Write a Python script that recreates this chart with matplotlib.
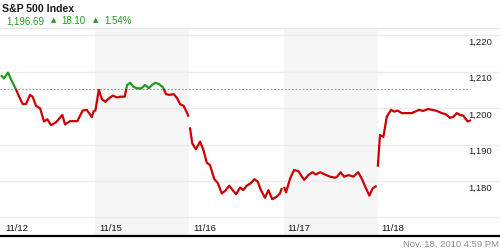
import matplotlib.pyplot as plt
from matplotlib.patches import Rectangle

plt.rcParams['font.family'] = ['Liberation Sans', 'DejaVu Sans']

# one list per trading day: minutes after the open, index level
days = ['11/12', '11/15', '11/16', '11/17', '11/18']
minutes = [
	[0, 12, 29, 44, 62, 75, 90, 104, 120, 131, 145, 162, 178, 192, 207, 228, 254, 265, 286, 316, 338, 355, 376, 385],
	[0, 15, 28, 42, 58, 73, 90, 104, 122, 132, 145, 159, 173, 191, 207, 222, 235, 249, 263, 280, 293, 307, 325, 339, 352, 366, 380, 387],
	[2, 12, 27, 44, 58, 72, 85, 103, 117, 134, 148, 165, 179, 193, 210, 223, 237, 254, 269, 283, 296, 313, 327, 343, 361, 375, 383],
	[2, 10, 27, 43, 61, 85, 102, 119, 133, 151, 171, 192, 213, 222, 236, 250, 268, 289, 309, 323, 341, 355, 369, 385],
	[0, 9, 23, 37, 55, 68, 82, 99, 120, 140, 154, 171, 188, 207, 226, 244, 265, 281, 299, 313, 327, 340, 354, 372, 386],
]
prices = [
	[1209.0, 1208.1, 1209.7, 1207.5, 1205.1, 1203.1, 1201.1, 1201.1, 1203.6, 1203.1, 1200.6, 1199.9,
	 1196.3, 1196.9, 1195.3, 1196.1, 1198.1, 1195.5, 1196.4, 1196.4, 1199.3, 1199.5, 1197.5, 1199.4],
	[1199.0, 1205.0, 1202.4, 1201.7, 1202.7, 1203.4, 1202.9, 1203.1, 1203.1, 1206.3, 1206.9, 1205.8, 1205.4, 1205.4,
	 1206.3, 1205.4, 1206.3, 1206.9, 1206.6, 1205.7, 1203.8, 1203.6, 1203.8, 1202.7, 1201.0, 1200.6, 1198.7, 1197.6],
	[1194.7, 1190.3, 1188.7, 1190.8, 1188.5, 1185.0, 1184.4, 1180.5, 1179.5, 1176.6, 1177.3, 1178.7, 1177.5, 1176.4,
	 1178.2, 1177.5, 1178.7, 1179.4, 1180.5, 1179.8, 1177.5, 1175.4, 1177.5, 1175.0, 1175.7, 1176.6, 1178.1],
	[1178.4, 1176.9, 1180.7, 1183.0, 1182.7, 1180.3, 1181.6, 1182.4, 1181.8, 1182.4, 1181.8, 1181.2,
	 1180.9, 1181.2, 1182.4, 1181.2, 1181.6, 1181.2, 1182.4, 1180.7, 1178.0, 1176.0, 1178.0, 1178.7],
	[1183.9, 1192.6, 1192.1, 1197.6, 1199.5, 1199.0, 1199.3, 1198.6, 1198.6, 1198.6, 1199.0, 1199.5, 1199.2,
	 1199.7, 1199.5, 1199.2, 1198.6, 1198.3, 1197.3, 1197.6, 1198.6, 1198.1, 1197.9, 1196.3, 1196.7],
]
ref_level = 1205.1
y_ticks = [1170, 1180, 1190, 1200, 1210, 1220]
y_labels = ['1,180', '1,190', '1,200', '1,210', '1,220']

title = 'S&P 500 Index'
last_price = '1,196.69'
change = '18.10'
change_pct = '1.54%'
stamp = 'Nov. 18, 2010 4:59 PM'

RED = '#cc0000'
GREEN = '#209a20'
SESSION = 390.0

fig = plt.figure(figsize=(5, 2.5), dpi=100)
ax = fig.add_axes([0, 0.056, 1, 0.832])
xmin, xmax = -0.0106, 5.297
ymin, ymax = 1164.93, 1221.92
ax.set_xlim(xmin, xmax)
ax.set_ylim(ymin, ymax)

# alternate days shaded
for d in range(len(days)):
	if d % 2 == 1:
		ax.axvspan(d, d + 1, color='#f6f6f6', lw=0, zorder=0)

ax.set_yticks(y_ticks)
ax.set_axisbelow(True)
ax.grid(axis='y', color='#ebebeb', lw=1)
ax.tick_params(left=False, labelleft=False, bottom=False, labelbottom=False)
for s in ['left', 'right']:
	ax.spines[s].set_visible(False)
ax.spines['top'].set_color('#e4e4e4')
ax.spines['top'].set_linewidth(0.8)
ax.spines['bottom'].set_color('black')
ax.spines['bottom'].set_linewidth(1.6)

ax.hlines(ref_level, xmin, 4.98, colors='#999999', lw=0.8, linestyles=(0, (1.6, 1.6)), zorder=1)

above = Rectangle((xmin, ref_level), xmax - xmin, ymax - ref_level, transform=ax.transData)
below = Rectangle((xmin, ymin), xmax - xmin, ref_level - ymin, transform=ax.transData)

for d in range(len(days)):
	xs = [d + m / SESSION for m in minutes[d]]
	up, = ax.plot(xs, prices[d], color=GREEN, lw=1.6, solid_joinstyle='round', solid_capstyle='butt', zorder=3)
	up.set_clip_path(above)
	down, = ax.plot(xs, prices[d], color=RED, lw=1.6, solid_joinstyle='round', solid_capstyle='butt', zorder=3)
	down.set_clip_path(below)
	ax.annotate(days[d], xy=(d, 0), xycoords=('data', 'axes fraction'), xytext=(2.8, 3.5),
		textcoords='offset points', fontsize=6.8, va='baseline', color='#111111')

for v, lab in zip(y_ticks[1:], y_labels):
	ax.annotate(lab, xy=(1, v), xycoords=('axes fraction', 'data'), xytext=(-5.5, -6.75),
		textcoords='offset points', fontsize=6.8, ha='right', va='baseline', color='#222222')

def px(x, y):
	return x / 500.0, 1 - y / 250.0

fig.text(*px(2, 12.3), title, fontsize=7.6, fontweight='bold', color='#1a1a1a', va='baseline')
fig.text(*px(6, 24), last_price, fontsize=7, color=GREEN, va='baseline')
fig.text(*px(50.5, 22.6), '\u25b2', fontsize=5, color=GREEN, va='baseline', family='DejaVu Sans')
fig.text(*px(61, 24), change, fontsize=7, color=GREEN, va='baseline')
fig.text(*px(92.5, 22.6), '\u25b2', fontsize=5, color=GREEN, va='baseline', family='DejaVu Sans')
fig.text(*px(104, 24), change_pct, fontsize=7, color=GREEN, va='baseline')
fig.text(*px(499, 246.7), stamp, fontsize=6.8, color='#8c8c8c', ha='right', va='baseline')

plt.savefig('out.png', dpi=100)
plt.close(fig)
